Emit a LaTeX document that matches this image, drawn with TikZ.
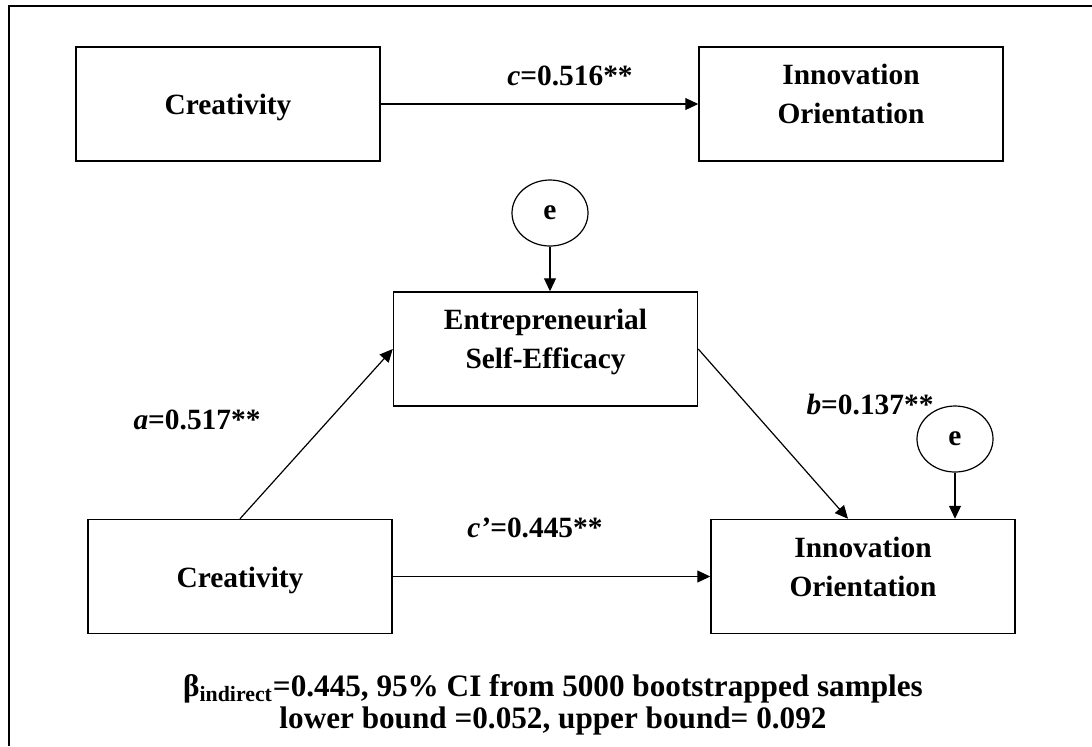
\documentclass[tikz,border=0pt]{standalone}
\usepackage{fontspec}
\setmainfont{Liberation Serif}
\usetikzlibrary{arrows.meta,shapes.geometric}

\begin{document}
\begin{tikzpicture}[x=0.5pt,y=-0.5pt]
    \tikzstyle{every node}+=[inner sep=0pt, font=\bfseries\fontsize{14.7}{19.5}\selectfont]
    \tikzstyle{varbox}=[draw, line width=0.75pt, minimum width=152pt, minimum height=57pt, align=center]
    \tikzstyle{oneline}=[varbox, text height=14pt]
    \tikzstyle{twoline}=[varbox, text depth=10pt]
    \tikzstyle{errnode}=[draw, ellipse, line width=0.6pt, minimum width=38pt, minimum height=33pt]
    \tikzstyle{effect}=[-{Triangle[length=6.5pt,width=6pt]}, line width=0.6pt]
    \useasboundingbox (0,0) rectangle (1092,746);
    \draw [line width=1pt] (9,746) -- (9,6) -- (1092,6);
    % total effect
    \node [oneline] (cr1) at (228,104) {Creativity};
    \node [twoline] (io1) at (851,104) {Innovation\\Orientation};
    \draw [effect] (cr1) -- (io1);
    \node (c) at (570,76) {\textit{c}=0.516**};
    % mediation model
    \node [twoline] (ese) at (545.5,349) {Entrepreneurial\\Self-Efficacy};
    \node [oneline] (cr2) at (240,576.5) {Creativity};
    \node [twoline] (io2) at (863,576.5) {Innovation\\Orientation};
    \node [errnode] (e1) at (550,213) {e};
    \node [errnode] (e2) at (955,439) {e};
    \draw [effect] (e1) -- (e1 |- ese.north);
    \draw [effect] (e2) -- (e2 |- io2.north);
    \draw [effect] (cr2.north) -- (ese.west);
    \draw [effect] (ese.east) -- ([xshift=-7.5pt]io2.north);
    \draw [effect] (cr2) -- (io2);
    \node (a) at (197,420) {\textit{a}=0.517**};
    \node (b) at (870,404) {\textit{b}=0.137**};
    \node (cp) at (535,528) {\textit{c’}=0.445**};
    \node [align=center, font=\bfseries\fontsize{15.6}{16}\selectfont] (ci) at (553,705)
        {β\textsubscript{indirect}=0.445, 95\% CI from 5000 bootstrapped samples\\
         lower bound =0.052, upper bound= 0.092};
\end{tikzpicture}
\end{document}
